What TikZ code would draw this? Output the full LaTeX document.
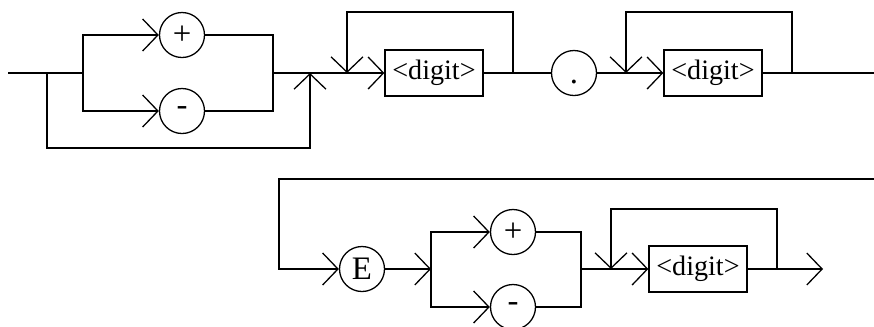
\documentclass[tikz,border=0pt]{standalone}
\usepackage{fontspec}
\setmainfont{Liberation Serif}
\usetikzlibrary{arrows.meta}

\begin{document}
\begin{tikzpicture}[x=0.3mm, y=-0.3mm, line width=1.1pt,
  sym/.style={circle, draw, minimum size=13.5mm, inner sep=0pt, font=\fontsize{28}{30}\selectfont},
  rule/.style={rectangle, draw, minimum width=29.4mm, minimum height=13.8mm, inner sep=0pt, font=\fontsize{24}{26}\selectfont},
  barb/.style={-{Straight Barb[length=4.6mm, width=9.6mm, line width=1.1pt]}}]
\useasboundingbox (0,0) rectangle (874,326);
% first line: sign, digits, point, digits
\coordinate (start) at (8,73);
\coordinate (skipA) at (47,73);
\coordinate (splitA) at (83,73);
\node[sym] (plusA) at (182,35) {+};
\node[sym] (minusA) at (182,111) {-};
\coordinate (joinA) at (273,73);
\coordinate (mergeA) at (310,73);
\coordinate (loopinA) at (347,73);
\node[rule] (digitA) at (434,73) {<digit>};
\coordinate (loopoutA) at (513,73);
\node[sym] (point) at (574,73) {\vphantom{E}.};
\coordinate (loopinB) at (626,73);
\node[rule] (digitB) at (713,73) {<digit>};
\coordinate (loopoutB) at (792,73);
\coordinate (wrapA) at (874,73);
\draw (start) -- (splitA);
\draw[barb] (splitA) |- (plusA);
\draw[barb] (splitA) |- (minusA);
\draw (plusA) -| (joinA) |- (minusA);
\draw[barb] (skipA) -- ++(0,75) -| (mergeA);
\draw (joinA) -- (loopinA);
\draw[barb] (loopinA) -- (digitA);
\draw (digitA) -- (loopoutA);
\draw[barb] (loopoutA) -- ++(0,-61) -| (loopinA);
\draw (loopoutA) -- (point);
\draw (point) -- (loopinB);
\draw[barb] (loopinB) -- (digitB);
\draw (digitB) -- (wrapA);
\draw[barb] (loopoutB) -- ++(0,-61) -| (loopinB);
% second line: exponent
\coordinate (wrapB) at (874,179);
\coordinate (bend) at (279,269);
\node[sym] (expo) at (362,269) {E};
\coordinate (splitB) at (431,269);
\node[sym] (plusB) at (513,232) {+};
\node[sym] (minusB) at (513,307) {-};
\coordinate (joinB) at (581,269);
\coordinate (loopinC) at (611,269);
\node[rule] (digitC) at (698,269) {<digit>};
\coordinate (loopoutC) at (777,269);
\coordinate (finish) at (823,269);
\draw[barb] (wrapB) -| (bend) -- (expo);
\draw[barb] (expo) -- (splitB);
\draw[barb] (splitB) |- (plusB);
\draw[barb] (splitB) |- (minusB);
\draw (plusB) -| (joinB) |- (minusB);
\draw (joinB) -- (loopinC);
\draw[barb] (loopinC) -- (digitC);
\draw (digitC) -- (loopoutC);
\draw[barb] (loopoutC) -- ++(0,-60) -| (loopinC);
\draw[barb] (loopoutC) -- (finish);
\end{tikzpicture}
\end{document}
